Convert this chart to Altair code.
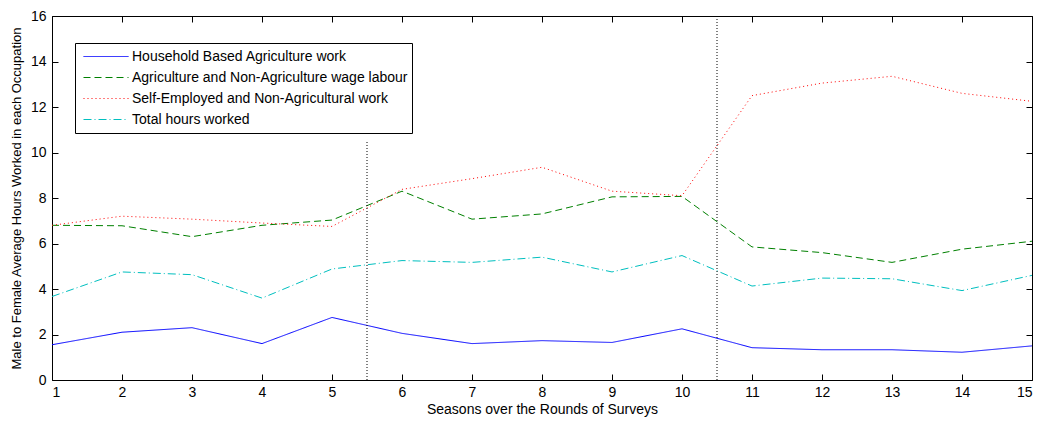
import altair as alt
import pandas as pd

seasons = list(range(1, 16))
household = [1.55, 2.1, 2.3, 1.6, 2.75, 2.05, 1.6, 1.73, 1.65, 2.25, 1.42, 1.33, 1.33, 1.22, 1.5]
wage = [6.8, 6.78, 6.3, 6.8, 7.03, 8.3, 7.07, 7.3, 8.05, 8.07, 5.85, 5.6, 5.17, 5.75, 6.1]
selfemp = [6.8, 7.2, 7.07, 6.9, 6.75, 8.38, 8.85, 9.35, 8.3, 8.1, 12.5, 13.05, 13.35, 12.6, 12.25]
total = [3.67, 4.75, 4.63, 3.6, 4.88, 5.25, 5.17, 5.4, 4.75, 5.47, 4.13, 4.48, 4.45, 3.93, 4.6]

series_names = [
    "Household Based Agriculture work",
    "Agriculture and Non-Agriculture wage labour",
    "Self-Employed and Non-Agricultural work",
    "Total hours worked",
]
series_values = [household, wage, selfemp, total]
colors = ["#0000ff", "#008000", "#ff0000", "#00bfbf"]
dashes = [[1, 0], [7, 4], [1, 3], [8, 3, 1, 3]]

divider_x = [5.5, 10.5]
divider_top = [10.55, 16]
divider_bottom = [0, 0]

x_ticks = list(range(1, 16))
y_ticks = list(range(0, 17, 2))

FONT = "Liberation Sans"

rows = []
for name, vals in zip(series_names, series_values):
    for s, v in zip(seasons, vals):
        rows.append({"season": s, "value": v, "series": name})
df = pd.DataFrame(rows)
vdf = pd.DataFrame({"x": divider_x, "y": divider_bottom, "y2": divider_top})

xscale = alt.Scale(domain=[1, 15], nice=False, zero=False)
yscale = alt.Scale(domain=[0, 16], nice=False)

lines = alt.Chart(df).mark_line(strokeWidth=1).encode(
    x=alt.X("season:Q", scale=xscale,
            axis=alt.Axis(orient="bottom", values=x_ticks, ticks=False, domain=False, grid=False,
                          labelPadding=5, labelFontSize=14, labelFont=FONT, labelColor="black",
                          title="Seasons over the Rounds of Surveys", titleFont=FONT,
                          titleFontSize=14, titleFontWeight="normal", titleColor="black",
                          titlePadding=3)),
    y=alt.Y("value:Q", scale=yscale,
            axis=alt.Axis(orient="left", values=y_ticks, ticks=False, domain=False, grid=False,
                          labelPadding=6, labelFontSize=14, labelFont=FONT, labelColor="black",
                          title="Male to Female Average Hours Worked in each Occupation",
                          titleFont=FONT, titleFontSize=13, titleFontWeight="normal",
                          titleColor="black", titlePadding=7)),
    color=alt.Color("series:N", scale=alt.Scale(domain=series_names, range=colors),
                    title=None),
    strokeDash=alt.StrokeDash("series:N", scale=alt.Scale(domain=series_names, range=dashes),
                              title=None),
)

rules = alt.Chart(vdf).mark_rule(color="black", strokeWidth=1, strokeDash=[1, 2]).encode(
    x=alt.X("x:Q", scale=xscale, axis=None),
    y=alt.Y("y:Q", scale=yscale, axis=None),
    y2="y2:Q",
)

tick_axis = dict(tickSize=6, labels=False, domain=False, grid=False, title=None,
                 tickColor="black", offset=-6)

ticks_bl = alt.Chart(df).mark_line(opacity=0).encode(
    x=alt.X("season:Q", scale=xscale, axis=alt.Axis(orient="bottom", values=x_ticks, **tick_axis)),
    y=alt.Y("value:Q", scale=yscale, axis=alt.Axis(orient="left", values=y_ticks, **tick_axis)),
)
ticks_tr = alt.Chart(df).mark_line(opacity=0).encode(
    x=alt.X("season:Q", scale=xscale, axis=alt.Axis(orient="top", values=x_ticks, **tick_axis)),
    y=alt.Y("value:Q", scale=yscale, axis=alt.Axis(orient="right", values=y_ticks, **tick_axis)),
)

chart = (
    alt.layer(lines, rules, ticks_bl, ticks_tr)
    .resolve_axis(x="independent", y="independent")
    .properties(width=980, height=364, autosize="none",
                padding={"left": 44, "top": 8, "right": 4, "bottom": 37})
    .configure_view(stroke="black", strokeWidth=1)
    .configure_legend(
        orient="none", legendX=23, legendY=27, direction="vertical",
        fillColor="white", strokeColor="black", strokeWidth=1, padding=4,
        symbolType="stroke", symbolSize=2025, symbolStrokeWidth=1, clipHeight=19,
        rowPadding=2, labelFont=FONT, labelFontSize=14, labelColor="black",
        labelOffset=3, labelLimit=400, symbolOffset=4,
    )
)

chart.save("out.html", embed_options={"renderer": "svg", "actions": False})
